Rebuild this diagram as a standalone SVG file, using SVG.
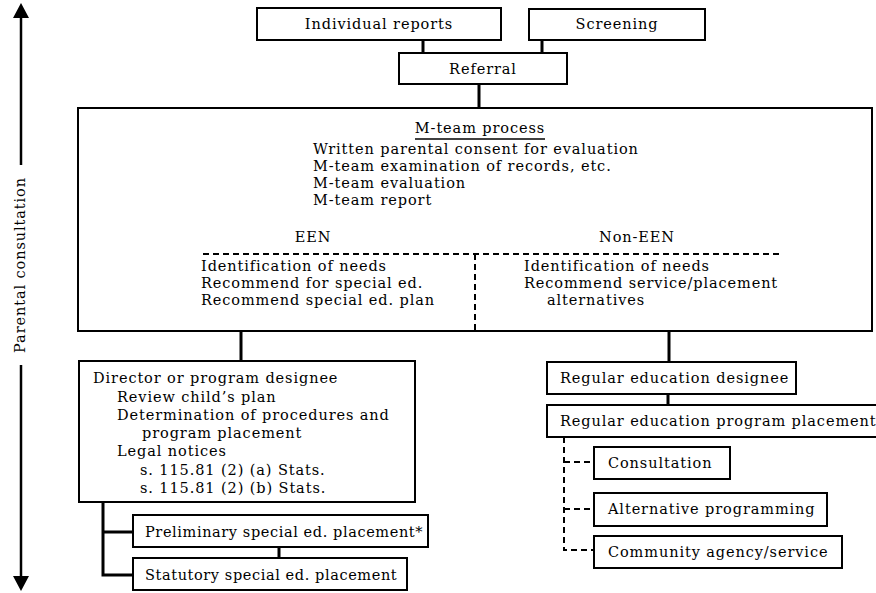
<svg xmlns="http://www.w3.org/2000/svg" width="876" height="593" viewBox="0 0 876 593">
<defs>
<style>
.box{fill:#fff;stroke:#000;stroke-width:2}
.t{font-family:"DejaVu Serif","Liberation Serif",serif;font-size:14.5px;letter-spacing:0.9px;fill:#000}
.c{text-anchor:middle}
.tight{letter-spacing:0.6px}
.conn{stroke:#000;stroke-width:3;fill:none}
.dash{stroke:#000;stroke-width:2;fill:none;stroke-dasharray:6 4}
.axis{stroke:#000;stroke-width:2.5;fill:none}
.head{fill:#000}
</style>
</defs>
<rect width="876" height="593" fill="#fff"/>

<g id="parental-consultation">
<line class="axis" x1="21" y1="165" x2="21" y2="16"/>
<polygon class="head" points="21,3 13,18 29,18"/>
<line class="axis" x1="21" y1="365" x2="21" y2="578"/>
<polygon class="head" points="13,576 29,576 21,591"/>
<text class="t c" transform="translate(25,265) rotate(-90)">Parental consultation</text>
</g>

<g id="connectors">
<line class="conn" x1="423" y1="40" x2="423" y2="53"/>
<line class="conn" x1="542" y1="40" x2="542" y2="53"/>
<line class="conn" x1="479" y1="84" x2="479" y2="108"/>
<line class="conn" x1="241" y1="331" x2="241" y2="361"/>
<line class="conn" x1="669" y1="331" x2="669" y2="362"/>
<line class="conn" x1="668" y1="394" x2="668" y2="405"/>
<path class="conn" d="M103,502 V575 H133 M103,532 H133"/>
<line class="conn" x1="279" y1="547" x2="279" y2="558"/>
<path class="dash" d="M564,437 V550 H593 M564,462 H593 M564,509 H593"/>
</g>

<g id="individual-reports">
<rect class="box" x="257" y="8" width="244" height="32"/>
<text class="t c" x="379" y="29">Individual reports</text>
</g>

<g id="screening">
<rect class="box" x="529" y="9" width="176" height="31"/>
<text class="t c" x="617" y="29">Screening</text>
</g>

<g id="referral">
<rect class="box" x="399" y="53" width="168" height="31"/>
<text class="t c" x="483" y="74">Referral</text>
</g>

<g id="m-team">
<rect class="box" x="78" y="108" width="794" height="223"/>
<text class="t c" x="480" y="133">M-team process</text>
<line x1="415" y1="139" x2="545" y2="139" stroke="#000" stroke-width="1.5"/>
<text class="t" x="313" y="154">Written parental consent for evaluation</text>
<text class="t" x="313" y="171">M-team examination of records, etc.</text>
<text class="t" x="313" y="188">M-team evaluation</text>
<text class="t" x="313" y="205">M-team report</text>
<text class="t c" x="313" y="242">EEN</text>
<text class="t c" x="637" y="242">Non-EEN</text>
<path class="dash" d="M203,254 H780 M475,254 V331"/>
<text class="t" x="201" y="271">Identification of needs</text>
<text class="t" x="201" y="288">Recommend for special ed.</text>
<text class="t" x="201" y="305">Recommend special ed. plan</text>
<text class="t" x="524" y="271">Identification of needs</text>
<text class="t" x="524" y="288">Recommend service/placement</text>
<text class="t" x="547" y="305">alternatives</text>
</g>

<g id="director">
<rect class="box" x="79" y="361" width="336" height="141"/>
<text class="t" x="93" y="383">Director or program designee</text>
<text class="t" x="117" y="402">Review child’s plan</text>
<text class="t" x="117" y="420">Determination of procedures and</text>
<text class="t" x="142" y="438">program placement</text>
<text class="t" x="117" y="456">Legal notices</text>
<text class="t" x="140" y="475">s. 115.81 (2) (a) Stats.</text>
<text class="t" x="140" y="493">s. 115.81 (2) (b) Stats.</text>
</g>

<g id="preliminary">
<rect class="box" x="133" y="515" width="295" height="32"/>
<text class="t tight" x="145" y="537">Preliminary special ed. placement*</text>
</g>

<g id="statutory">
<rect class="box" x="133" y="558" width="274" height="32"/>
<text class="t tight" x="145" y="580">Statutory special ed. placement</text>
</g>

<g id="regular-designee">
<rect class="box" x="547" y="362" width="249" height="32"/>
<text class="t" x="560" y="383">Regular education designee</text>
</g>

<g id="regular-placement">
<rect class="box" x="547" y="405" width="330" height="32"/>
<text class="t" x="560" y="426">Regular education program placement</text>
</g>

<g id="consultation">
<rect class="box" x="594" y="447" width="136" height="32"/>
<text class="t" x="608" y="468">Consultation</text>
</g>

<g id="alternative">
<rect class="box" x="594" y="493" width="233" height="33"/>
<text class="t" x="608" y="514">Alternative programming</text>
</g>

<g id="community">
<rect class="box" x="594" y="536" width="248" height="32"/>
<text class="t" x="608" y="557">Community agency/service</text>
</g>
</svg>
